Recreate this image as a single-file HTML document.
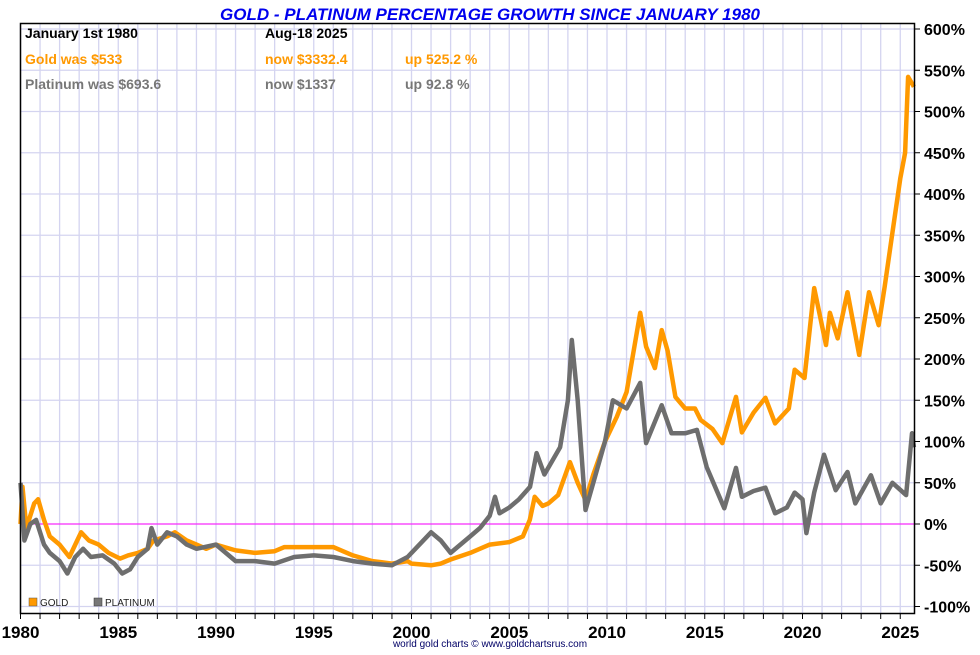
<!DOCTYPE html>
<html><head><meta charset="utf-8"><style>
body{margin:0;background:#fff;width:980px;height:650px;overflow:hidden;font-family:"Liberation Sans",sans-serif}
</style></head><body>
<svg id="chart" width="980" height="650" xmlns="http://www.w3.org/2000/svg">
<text x="490" y="20" text-anchor="middle" font-size="17" font-weight="bold" font-style="italic" fill="#0000ee">GOLD - PLATINUM PERCENTAGE GROWTH SINCE JANUARY 1980</text>
<g id="grid"></g>
<line id="zero" stroke="#ff00ff" stroke-width="1"/>
<g id="series"></g>
<rect x="20.5" y="23.5" width="894" height="590" fill="none" stroke="#000" stroke-width="1.5"/>
<g id="axes"></g>
<g font-size="14" font-weight="bold">
<text x="25" y="38" fill="#000">January 1st 1980</text>
<text x="265" y="38" fill="#000">Aug-18  2025</text>
<text x="25" y="64" fill="#ff9900">Gold was $533</text>
<text x="265" y="64" fill="#ff9900">now $3332.4</text>
<text x="405" y="64" fill="#ff9900">up 525.2 %</text>
<text x="25" y="89" fill="#777">Platinum was $693.6</text>
<text x="265" y="89" fill="#777">now $1337</text>
<text x="405" y="89" fill="#777">up 92.8 %</text>
</g>
<g font-size="10">
<rect x="29" y="598" width="8" height="8" fill="#ff9900" stroke="#555" stroke-width="0.5"/>
<text x="40" y="606" fill="#222">GOLD</text>
<rect x="94" y="598" width="8" height="8" fill="#777" stroke="#333" stroke-width="0.5"/>
<text x="105" y="606" fill="#222">PLATINUM</text>
</g>
<text x="490" y="647" text-anchor="middle" font-size="10" fill="#000066">world gold charts © www.goldchartsrus.com</text>
</svg>
<script>
const yTicks=[600,550,500,450,400,350,300,250,200,150,100,50,0,-50,-100];
const xTickYears=[1980,1985,1990,1995,2000,2005,2010,2015,2020,2025];
const goldYears=[1980,1980.1,1980.3,1980.7,1980.9,1981.2,1981.5,1982,1982.5,1982.9,1983.1,1983.5,1984,1984.5,1985.1,1985.5,1986,1986.5,1986.8,1987.5,1987.9,1988.5,1989,1989.5,1990,1991,1992,1993,1993.5,1994,1995,1996,1997,1998,1999,1999.8,2000,2001,2001.5,2002,2003,2004,2005,2005.7,2006.05,2006.3,2006.7,2007,2007.5,2008.1,2008.5,2008.9,2009.3,2009.9,2010.5,2011,2011.7,2012.0,2012.45,2012.8,2013.1,2013.5,2014,2014.5,2014.8,2015.4,2015.9,2016.6,2016.9,2017.5,2018.1,2018.6,2019.3,2019.6,2020.1,2020.6,2021.2,2021.4,2021.8,2022.3,2022.9,2023.4,2023.9,2024.2,2024.6,2025.0,2025.25,2025.4,2025.7];
const goldValues=[0,45,-5,25,30,5,-15,-25,-40,-20,-10,-20,-25,-35,-42,-38,-35,-30,-20,-15,-10,-20,-25,-30,-25,-32,-35,-33,-28,-28,-28,-28,-38,-45,-48,-45,-48,-50,-48,-43,-35,-25,-22,-15,5,33,22,25,35,75,50,29,60,100,130,160,256,215,189,235,210,154,140,140,126,115,98,154,111,135,153,122,140,187,177,286,217,256,225,281,205,281,241,287,353,419,450,542,530];
const platYears=[1980,1980.2,1980.5,1980.8,1981.2,1981.5,1982,1982.4,1982.8,1983.2,1983.6,1984.2,1984.8,1985.2,1985.6,1986,1986.5,1986.7,1987,1987.5,1988,1988.5,1989,1990,1990.5,1991,1992,1993,1994,1995,1996,1997,1998,1999,1999.8,2000.2,2001,2001.5,2002,2002.5,2003,2003.5,2004,2004.27,2004.5,2005,2005.5,2006.06,2006.4,2006.8,2007.6,2008.0,2008.2,2008.5,2008.9,2009.3,2009.9,2010.3,2011,2011.7,2012,2012.8,2013.3,2014,2014.6,2015.1,2016.0,2016.6,2016.9,2017.5,2018.1,2018.6,2019.2,2019.6,2020.0,2020.2,2020.6,2021.1,2021.7,2022.3,2022.7,2023.5,2024.0,2024.6,2025.3,2025.6,2025.7];
const platValues=[50,-20,0,5,-25,-35,-45,-60,-40,-30,-40,-38,-48,-60,-55,-40,-30,-5,-25,-10,-15,-25,-30,-25,-35,-45,-45,-48,-40,-38,-40,-45,-48,-50,-40,-30,-10,-20,-35,-25,-15,-5,10,33,13,20,30,45,86,60,93,150,223,150,17,50,100,150,140,171,98,144,110,110,114,69,19,68,33,40,44,13,20,38,30,-11,38,84,41,63,25,59,25,50,35,110,93];
const NS='http://www.w3.org/2000/svg';
const x=yr=>20.5+(yr-1980)*19.55;
const y=p=>524-p*0.825;
const grid=document.getElementById('grid'),axes=document.getElementById('axes'),series=document.getElementById('series');
for(let yr=1980;yr<=2025;yr++){
  const l=document.createElementNS(NS,'line');
  
  
  l.setAttribute('x1',x(yr));l.setAttribute('x2',x(yr));l.setAttribute('y1',24);l.setAttribute('y2',613);
  l.setAttribute('stroke','#d4d4f0');l.setAttribute('stroke-width','1.3');grid.appendChild(l);
}
yTicks.forEach(v=>{
  const l=document.createElementNS(NS,'line');
  
  
  l.setAttribute('x1',21);l.setAttribute('x2',914);l.setAttribute('y1',y(v));l.setAttribute('y2',y(v));
  l.setAttribute('stroke','#d4d4f0');l.setAttribute('stroke-width','1.3');grid.appendChild(l);
  const t=document.createElementNS(NS,'line');
  
  
  t.setAttribute('x1',914);t.setAttribute('x2',920);t.setAttribute('y1',y(v));t.setAttribute('y2',y(v));t.setAttribute('stroke','#000');axes.appendChild(t);
  const tx=document.createElementNS(NS,'text');
  
  
  tx.setAttribute('x',924);tx.setAttribute('y',y(v)+6);tx.setAttribute('font-size','16');tx.setAttribute('font-weight','bold');
  tx.textContent=v+'%';axes.appendChild(tx);
});
xTickYears.forEach(yr=>{
  const tx=document.createElementNS(NS,'text');
  
  
  tx.setAttribute('x',x(yr));tx.setAttribute('y',638);tx.setAttribute('text-anchor','middle');tx.setAttribute('font-size','17');tx.setAttribute('font-weight','bold');
  tx.textContent=yr;axes.appendChild(tx);
});
for(let yr=1980;yr<=2025;yr++){
  const t=document.createElementNS(NS,'line');
  
  
  t.setAttribute('x1',x(yr));t.setAttribute('x2',x(yr));t.setAttribute('y1',613);t.setAttribute('y2',619);t.setAttribute('stroke','#000');axes.appendChild(t);
}
const z=document.getElementById('zero');
z.setAttribute('x1',21);z.setAttribute('x2',914);z.setAttribute('y1',y(0));z.setAttribute('y2',y(0));
function drawLine(xs,vs,color,name){
  const p=document.createElementNS(NS,'polyline');
  
  
  p.setAttribute('points',xs.map((yr,i)=>x(yr).toFixed(1)+','+y(vs[i]).toFixed(1)).join(' '));
  p.setAttribute('fill','none');p.setAttribute('stroke',color);p.setAttribute('stroke-width','4.5');p.setAttribute('stroke-linejoin','round');
  series.appendChild(p);
}
drawLine(goldYears,goldValues,'#ff9900','gold-line');
drawLine(platYears,platValues,'#6e6e6e','platinum-line');
</script>
</body></html>
